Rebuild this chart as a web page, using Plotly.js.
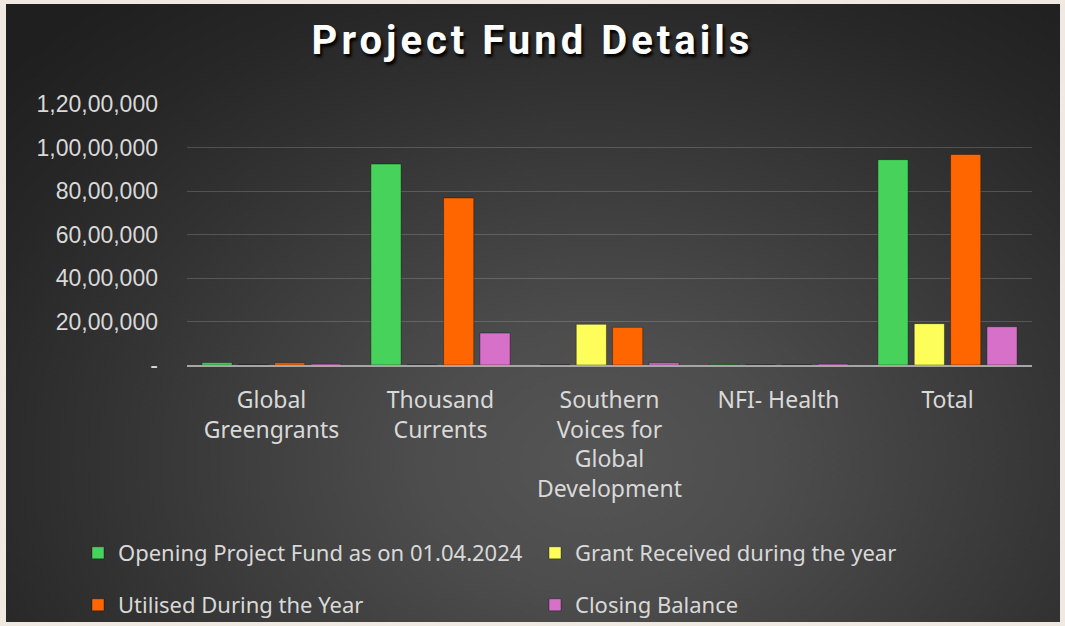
<!DOCTYPE html>
<html>
<head>
<meta charset="utf-8">
<script src="https://cdn.plot.ly/plotly-3.0.1.min.js"></script>
<style>
  html, body { margin: 0; padding: 0; background: #efe9e2; }
  #wrap { position: relative; width: 1065px; height: 626px; overflow: hidden; }
  #bg { position: absolute; left: 6px; top: 4px; width: 1054px; height: 618px;
        background: radial-gradient(ellipse 75% 95% at 56% 74%, #555555 0%, #4d4d4d 22%, #404040 42%, #333333 62%, #272727 82%, #1f1f1f 100%); }
  #chart { position: absolute; left: 0; top: 0; width: 1065px; height: 626px; }
  #chart .gtitle { letter-spacing: 4px; }
</style>
</head>
<body>
<div id="wrap"><div id="bg"></div><div id="chart"></div></div>
<script>
// ---- data (values in rupees) ----
const categories = ['Global<br>Greengrants', 'Thousand<br>Currents', 'Southern<br>Voices for<br>Global<br>Development', 'NFI- Health', 'Total'];
const openingFund = [110000, 9240000, 0, 30000, 9440000];
const grantReceived = [0, 0, 1870000, 0, 1900000];
const utilised = [100000, 7680000, 1730000, 0, 9680000];
const closingBalance = [50000, 1470000, 100000, 50000, 1760000];
const seriesNames = ['Opening Project Fund as on 01.04.2024', 'Grant Received during the year', 'Utilised During the Year', 'Closing Balance'];
const yTickVals = [0, 2000000, 4000000, 6000000, 8000000, 10000000, 12000000];
const yTickText = ['-', '20,00,000', '40,00,000', '60,00,000', '80,00,000', '1,00,00,000', '1,20,00,000'];

const colors = ['#47d35b', '#fefe5a', '#ff6600', '#d670c8'];
const values = [openingFund, grantReceived, utilised, closingBalance];
const legendIds = ['legend', 'legend2', 'legend3', 'legend4'];

const traces = values.map((v, i) => ({
  type: 'bar',
  name: seriesNames[i],
  x: categories,
  y: v,
  legend: legendIds[i],
  marker: { color: colors[i], line: { color: 'rgba(0,0,0,0.35)', width: 1 } },
  hoverinfo: 'x+y+name'
}));

const legendFont = { family: 'Noto Sans, sans-serif', size: 22, color: '#d9d9d9' };
// legend anchor points (container pixels): [left x, centre y]
const legendPos = [[78, 553], [535, 553], [78, 605], [535, 605]];

const layout = {
  width: 1065, height: 626,
  paper_bgcolor: 'rgba(0,0,0,0)',
  plot_bgcolor: 'rgba(0,0,0,0)',
  margin: { l: 187, r: 33, t: 104, b: 261 },
  barmode: 'group',
  bargap: 0.14,
  bargroupgap: 0.17,
  title: {
    text: 'Project Fund Details',
    xref: 'container', x: 0.5, xanchor: 'center',
    yref: 'container', y: 1 - 40 / 626, yanchor: 'middle',
    font: { family: 'Roboto, sans-serif', size: 40, color: '#ffffff', weight: 700, shadow: '2px 3px 3px #000000' }
  },
  xaxis: {
    type: 'category',
    showgrid: false,
    showline: true, linecolor: '#a6a6a6', linewidth: 2,
    ticks: '',
    ticklabelstandoff: 13,
    tickfont: { family: 'Noto Sans, sans-serif', size: 23, color: '#d9d9d9' },
    fixedrange: true
  },
  yaxis: {
    range: [0, 12000000],
    tickvals: yTickVals,
    ticktext: yTickText,
    showgrid: true, gridcolor: 'rgba(255,255,255,0.17)', gridwidth: 1,
    zeroline: false,
    showline: false,
    ticks: '',
    ticklabelstandoff: 28,
    tickfont: { family: 'Liberation Sans, Arial, sans-serif', size: 23, color: '#d9d9d9' },
    fixedrange: true
  },
  showlegend: true
};

legendIds.forEach((id, i) => {
  layout[id] = {
    orientation: 'h',
    xref: 'container', yref: 'container',
    x: legendPos[i][0] / 1065, xanchor: 'left',
    y: 1 - legendPos[i][1] / 626, yanchor: 'middle',
    font: legendFont,
    bgcolor: 'rgba(0,0,0,0)'
  };
});

Plotly.newPlot('chart', traces, layout, { displayModeBar: false });
</script>
</body>
</html>
